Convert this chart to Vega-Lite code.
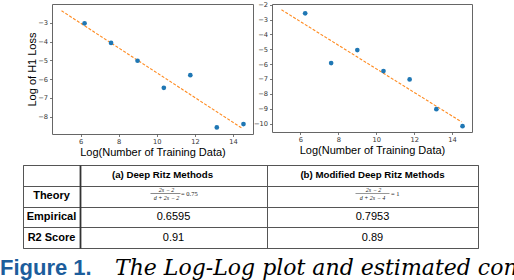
{
  "$schema": "https://vega.github.io/schema/vega-lite/v6.json",
  "padding": {"left": 0, "top": 1, "right": 0, "bottom": 0},
  "background": "white",
  "spacing": 6,
  "config": {
    "view": {"stroke": null},
    "font": "Liberation Sans",
    "axis": {
      "labelFont": "DejaVu Sans", "labelFontSize": 6.7, "labelColor": "#333",
      "tickColor": "#555", "tickSize": 2.5, "tickWidth": 0.8, "labelPadding": 2,
      "domain": false, "grid": false,
      "titleFont": "Liberation Sans", "titleFontSize": 11, "titleFontWeight": "normal", "titleColor": "#000"
    }
  },
  "datasets": {
    "ptsA": [
      {"logN": 6.21, "logLoss": -3.03}, {"logN": 7.60, "logLoss": -4.07}, {"logN": 8.99, "logLoss": -5.02},
      {"logN": 10.37, "logLoss": -6.46}, {"logN": 11.76, "logLoss": -5.79}, {"logN": 13.15, "logLoss": -8.57},
      {"logN": 14.55, "logLoss": -8.39}
    ],
    "fitA": [{"logN": 5.0, "logLoss": -2.36}, {"logN": 14.5, "logLoss": -8.63}],
    "ptsB": [
      {"logN": 6.25, "logLoss": -2.58}, {"logN": 7.62, "logLoss": -5.93}, {"logN": 9.0, "logLoss": -5.05},
      {"logN": 10.38, "logLoss": -6.47}, {"logN": 11.76, "logLoss": -7.03}, {"logN": 13.17, "logLoss": -9.03},
      {"logN": 14.55, "logLoss": -10.18}
    ],
    "fitB": [{"logN": 5.0, "logLoss": -2.34}, {"logN": 14.5, "logLoss": -9.89}],
    "tab1": [
      {"row": "head", "label": ""}, {"row": "theory", "label": "Theory"},
      {"row": "empirical", "label": "Empirical"}, {"row": "r2", "label": "R2 Score"}
    ],
    "tab2": [
      {"row": "head", "part": "head", "label": "(a) Deep Ritz Methods"},
      {"row": "theory", "part": "num", "label": "2s − 2"},
      {"row": "theory", "part": "den", "label": "d + 2s − 2"},
      {"row": "theory", "part": "bar", "label": ""},
      {"row": "theory", "part": "eq", "label": "= 0.75"},
      {"row": "empirical", "part": "val", "label": "0.6595"},
      {"row": "r2", "part": "val", "label": "0.91"}
    ],
    "tab3": [
      {"row": "head", "part": "head", "label": "(b) Modified Deep Ritz Methods"},
      {"row": "theory", "part": "num", "label": "2s − 2"},
      {"row": "theory", "part": "den", "label": "d + 2s − 4"},
      {"row": "theory", "part": "bar", "label": ""},
      {"row": "theory", "part": "eq", "label": "= 1"},
      {"row": "empirical", "part": "val", "label": "0.7953"},
      {"row": "r2", "part": "val", "label": "0.89"}
    ],
    "cap": [
      {"part": "fig", "text": "Figure 1."},
      {"part": "body", "text": "The Log-Log plot and estimated convergence rate"}
    ]
  },
  "vconcat": [
    {
      "bounds": "flush",
      "spacing": 19,
      "hconcat": [
        {"width": 33, "height": 1, "data": {"values": []}, "mark": "point"},
        {
          "width": 201, "height": 130,
          "view": {"stroke": "#666", "strokeWidth": 1},
          "encoding": {
            "x": {"field": "logN", "type": "quantitative",
              "scale": {"domain": [4.5, 15.05], "nice": false, "zero": false},
              "axis": {"values": [6, 8, 10, 12, 14], "title": "Log(Number of Training Data)", "titlePadding": 1}},
            "y": {"field": "logLoss", "type": "quantitative",
              "scale": {"domain": [-8.92, -2.0], "nice": false, "zero": false},
              "axis": {"values": [-8, -7, -6, -5, -4, -3], "title": "Log of H1 Loss", "titlePadding": 0}}
          },
          "layer": [
            {"data": {"name": "fitA"}, "mark": {"type": "line", "color": "#ff8a1f", "strokeDash": [3, 1.6], "strokeWidth": 1.1}},
            {"data": {"name": "ptsA"}, "mark": {"type": "circle", "size": 22, "color": "#1f77b4", "opacity": 1}}
          ]
        },
        {
          "width": 200, "height": 128,
          "view": {"stroke": "#666", "strokeWidth": 1},
          "encoding": {
            "x": {"field": "logN", "type": "quantitative",
              "scale": {"domain": [4.5, 15.05], "nice": false, "zero": false},
              "axis": {"values": [6, 8, 10, 12, 14], "title": "Log(Number of Training Data)", "titlePadding": 1}},
            "y": {"field": "logLoss", "type": "quantitative",
              "scale": {"domain": [-10.57, -1.95], "nice": false, "zero": false},
              "axis": {"values": [-10, -9, -8, -7, -6, -5, -4, -3, -2], "title": null}}
          },
          "layer": [
            {"data": {"name": "fitB"}, "mark": {"type": "line", "color": "#ff8a1f", "strokeDash": [3, 1.6], "strokeWidth": 1.1}},
            {"data": {"name": "ptsB"}, "mark": {"type": "circle", "size": 22, "color": "#1f77b4", "opacity": 1}}
          ]
        }
      ]
    },
    {
      "bounds": "flush",
      "spacing": 0,
      "hconcat": [
        {"width": 23, "height": 1, "data": {"values": []}, "mark": "point"},
        {
          "width": 57, "height": 83,
          "view": {"stroke": "#555", "strokeWidth": 1},
          "data": {"name": "tab1"},
          "mark": {"type": "text", "fontWeight": "bold", "fontSize": 11, "color": "#000"},
          "encoding": {
            "y": {"field": "row", "type": "nominal", "sort": null,
              "scale": {"domain": ["head", "theory", "empirical", "r2"], "paddingInner": 0, "paddingOuter": 0},
              "axis": {"grid": true, "tickBand": "extent", "ticks": false, "labels": false, "domain": false, "title": null, "gridColor": "#555", "gridWidth": 1}},
            "text": {"field": "label"}
          }
        },
        {
          "width": 187, "height": 83,
          "view": {"stroke": "#555", "strokeWidth": 1},
          "data": {"name": "tab2"},
          "encoding": {
            "y": {"field": "row", "type": "nominal", "sort": null,
              "scale": {"domain": ["head", "theory", "empirical", "r2"], "paddingInner": 0, "paddingOuter": 0},
              "axis": {"grid": true, "tickBand": "extent", "ticks": false, "labels": false, "domain": true, "domainColor": "#333", "domainWidth": 1.8, "title": null, "gridColor": "#555", "gridWidth": 1}}
          },
          "layer": [
            {"transform": [{"filter": "datum.part == 'head'"}], "mark": {"type": "text", "fontWeight": "bold", "fontSize": 9.7, "dx": -11, "color": "#000"}, "encoding": {"text": {"field": "label"}}},
            {"transform": [{"filter": "datum.part == 'val'"}], "mark": {"type": "text", "fontSize": 11, "color": "#000"}, "encoding": {"text": {"field": "label"}}},
            {"transform": [{"filter": "datum.part == 'num'"}], "mark": {"type": "text", "font": "Liberation Serif", "fontStyle": "italic", "fontSize": 6, "dx": -7, "dy": -6.5, "color": "#222"}, "encoding": {"text": {"field": "label"}}},
            {"transform": [{"filter": "datum.part == 'den'"}], "mark": {"type": "text", "font": "Liberation Serif", "fontStyle": "italic", "fontSize": 6, "dx": -7, "dy": 2.2, "color": "#222"}, "encoding": {"text": {"field": "label"}}},
            {"transform": [{"filter": "datum.part == 'eq'"}], "mark": {"type": "text", "font": "Liberation Serif", "fontSize": 6.5, "align": "left", "dx": 7.5, "dy": -2.4, "color": "#222"}, "encoding": {"text": {"field": "label"}}},
            {"transform": [{"filter": "datum.part == 'bar'"}], "mark": {"type": "tick", "orient": "horizontal", "size": 30, "thickness": 0.6, "color": "#333", "opacity": 1, "xOffset": -8, "yOffset": -2.4}}
          ]
        },
        {
          "width": 211, "height": 83,
          "view": {"stroke": "#555", "strokeWidth": 1},
          "data": {"name": "tab3"},
          "encoding": {
            "y": {"field": "row", "type": "nominal", "sort": null,
              "scale": {"domain": ["head", "theory", "empirical", "r2"], "paddingInner": 0, "paddingOuter": 0},
              "axis": {"grid": true, "tickBand": "extent", "ticks": false, "labels": false, "domain": false, "title": null, "gridColor": "#555", "gridWidth": 1}}
          },
          "layer": [
            {"transform": [{"filter": "datum.part == 'head'"}], "mark": {"type": "text", "fontWeight": "bold", "fontSize": 9.7, "color": "#000"}, "encoding": {"text": {"field": "label"}}},
            {"transform": [{"filter": "datum.part == 'val'"}], "mark": {"type": "text", "fontSize": 11, "color": "#000"}, "encoding": {"text": {"field": "label"}}},
            {"transform": [{"filter": "datum.part == 'num'"}], "mark": {"type": "text", "font": "Liberation Serif", "fontStyle": "italic", "fontSize": 6, "dx": 1, "dy": -6.5, "color": "#222"}, "encoding": {"text": {"field": "label"}}},
            {"transform": [{"filter": "datum.part == 'den'"}], "mark": {"type": "text", "font": "Liberation Serif", "fontStyle": "italic", "fontSize": 6, "dx": 0, "dy": 2.2, "color": "#222"}, "encoding": {"text": {"field": "label"}}},
            {"transform": [{"filter": "datum.part == 'eq'"}], "mark": {"type": "text", "font": "Liberation Serif", "fontSize": 6.5, "align": "left", "dx": 18.5, "dy": -2.4, "color": "#222"}, "encoding": {"text": {"field": "label"}}},
            {"transform": [{"filter": "datum.part == 'bar'"}], "mark": {"type": "tick", "orient": "horizontal", "size": 34, "thickness": 0.6, "color": "#333", "opacity": 1, "xOffset": 0, "yOffset": -2.4}}
          ]
        }
      ]
    },
    {
      "width": 115, "height": 40,
      "data": {"name": "cap"},
      "encoding": {
        "x": {"field": "part", "type": "nominal", "sort": null,
          "scale": {"type": "point", "padding": 0, "domain": ["fig", "body"]}, "axis": null},
        "text": {"field": "text"}
      },
      "layer": [
        {"transform": [{"filter": "datum.part == 'fig'"}], "mark": {"type": "text", "align": "left", "baseline": "alphabetic", "font": "Liberation Sans", "fontWeight": "bold", "fontSize": 22, "color": "#1c5d9c"}},
        {"transform": [{"filter": "datum.part == 'body'"}], "mark": {"type": "text", "align": "left", "baseline": "alphabetic", "font": "DejaVu Serif", "fontStyle": "italic", "fontSize": 22, "color": "#000"}}
      ]
    }
  ]
}
